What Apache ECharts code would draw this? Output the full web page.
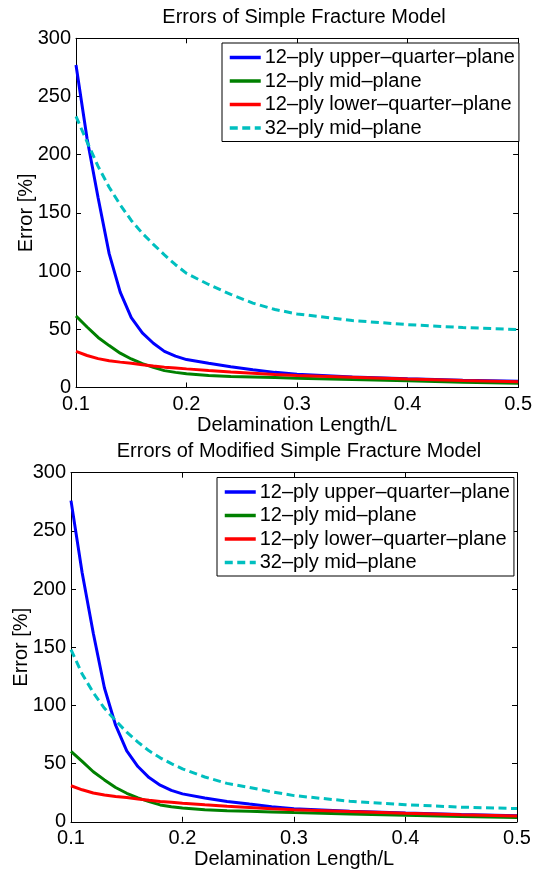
<!DOCTYPE html>
<html>
<head>
<meta charset="utf-8">
<script src="https://cdn.jsdelivr.net/npm/echarts@6/dist/echarts.min.js"></script>
<style>
  html, body { margin: 0; padding: 0; background: #fff; }
  #chart { width: 535px; height: 871px; }
</style>
</head>
<body>
<div id="chart"></div>
<script>
// delamination length / L
const xs = [0.10, 0.11, 0.12, 0.13, 0.14, 0.15, 0.16, 0.17, 0.18, 0.19, 0.20,
  0.22, 0.24, 0.26, 0.28, 0.30, 0.35, 0.40, 0.45, 0.50];

// top: simple fracture model
const upperTop = [277, 214, 163, 115, 82, 60, 47, 38, 31, 27, 24,
  20.8, 17.8, 15.3, 13, 11.3, 9, 7.5, 6.3, 5.3];
const midTop = [61.4, 52, 43, 36, 29.5, 24.5, 20.5, 17.3, 14.5, 13, 11.8,
  10.3, 9.5, 9, 8.5, 8, 6.8, 5.7, 4.6, 3.6];
const lowerTop = [31, 27.5, 24.8, 23, 21.8, 20.8, 19.6, 18.5, 17.5, 16.8, 16,
  14.6, 13.3, 12.3, 11.2, 10.3, 8.8, 7.4, 6.1, 5];
const mid32Top = [233, 211, 190, 172, 157, 143.5, 132.5, 123, 114, 105.5, 98,
  88.5, 80, 72.5, 67, 63.2, 57.5, 54, 51.5, 49.8];

// bottom: modified simple fracture model
const upperBot = [276, 214, 162, 115, 83, 61, 47.5, 38, 31.5, 27, 24,
  20.5, 17.5, 15.2, 13, 11.3, 9, 7.5, 6.3, 5.3];
const midBot = [60.5, 52, 43, 36, 29.5, 24.5, 20.5, 17.3, 14.5, 13, 11.8,
  10.3, 9.5, 9, 8.5, 8, 6.8, 5.7, 4.6, 3.6];
const lowerBot = [31, 27.5, 24.8, 23, 21.8, 20.8, 19.6, 18.5, 17.5, 16.8, 16,
  14.6, 13.3, 12.3, 11.2, 10.3, 8.8, 7.4, 6.1, 5];
const mid32Bot = [148, 127, 111, 97.5, 87, 77, 68.5, 61, 55, 50, 45.5,
  38.5, 33, 29.5, 25.8, 22.5, 17.7, 14.7, 12.6, 11.4];

const names = ["12–ply upper–quarter–plane", "12–ply mid–plane",
  "12–ply lower–quarter–plane", "32–ply mid–plane"];
const titles = ["Errors of Simple Fracture Model", "Errors of Modified Simple Fracture Model"];
const colors = ["#0000ff", "#008000", "#ff0000", "#00bfbf"];

const FONT = "Liberation Sans, Arial, Helvetica, sans-serif";

function pairs(ys) {
  return xs.map((x, i) => [x, ys[i]]);
}

function xAxisFor(grid, bottom) {
  return {
    type: "value",
    gridIndex: grid,
    position: bottom ? "bottom" : "top",
    min: 0.1,
    max: 0.5,
    interval: 0.1,
    name: bottom ? "Delamination Length/L" : "",
    nameLocation: "middle",
    nameGap: 28,
    nameMoveOverlap: false,
    nameTextStyle: { color: "#000", fontSize: 20, fontFamily: FONT },
    axisLine: { show: true, onZero: false, lineStyle: { color: "#000", width: 1 } },
    axisTick: { show: true, inside: true, length: 5, lineStyle: { color: "#000" } },
    axisLabel: {
      show: bottom,
      color: "#000",
      fontSize: 20,
      fontFamily: FONT,
      margin: 7,
      formatter: (v) => v.toFixed(1),
    },
    splitLine: { show: false },
  };
}

function yAxisFor(grid, left) {
  return {
    type: "value",
    gridIndex: grid,
    position: left ? "left" : "right",
    min: 0,
    max: 300,
    interval: 50,
    name: left ? "Error [%]" : "",
    nameLocation: "middle",
    nameGap: 40,
    nameMoveOverlap: false,
    nameRotate: 90,
    nameTextStyle: { color: "#000", fontSize: 20, fontFamily: FONT },
    axisLine: { show: true, onZero: false, lineStyle: { color: "#000", width: 1 } },
    axisTick: { show: true, inside: true, length: 5, lineStyle: { color: "#000" } },
    axisLabel: { show: left, color: "#000", fontSize: 20, fontFamily: FONT, margin: 5 },
    splitLine: { show: false },
  };
}

function seriesFor(grid, sets) {
  return sets.map((ys, i) => ({
    type: "line",
    name: names[i],
    xAxisIndex: grid * 2,
    yAxisIndex: grid * 2,
    data: pairs(ys),
    symbol: "none",
    smooth: false,
    lineStyle: {
      color: colors[i],
      width: 3,
      type: i === 3 ? [8, 4.5] : "solid",
    },
    itemStyle: { color: colors[i] },
  }));
}

function legendFor(left, top) {
  return {
    orient: "vertical",
    left: left,
    top: top,
    data: names,
    itemWidth: 31,
    itemHeight: 20,
    itemGap: 3.5,
    padding: [4.5, 4, 3.5, 6],
    backgroundColor: "#fff",
    borderColor: "#000",
    borderWidth: 1,
    borderRadius: 0,
    selectedMode: false,
    itemStyle: { opacity: 0, borderWidth: 0 },
    lineStyle: { width: 3.5 },
    textStyle: { color: "#000", fontSize: 20, fontFamily: FONT, padding: [0, 0, 0, -1] },
  };
}

const chart = echarts.init(document.getElementById("chart"), null, { renderer: "canvas" });

chart.setOption({
  backgroundColor: "#fff",
  animation: false,
  title: [
    {
      text: titles[0],
      left: 299,
      top: 2,
      textAlign: "center",
      textStyle: { color: "#000", fontSize: 20, fontWeight: "normal", fontFamily: FONT },
    },
    {
      text: titles[1],
      left: 294,
      top: 436,
      textAlign: "center",
      textStyle: { color: "#000", fontSize: 20, fontWeight: "normal", fontFamily: FONT },
    },
  ],
  legend: [legendFor(222, 43), legendFor(217, 477.5)],
  grid: [
    { left: 76, right: 13.4, top: 38.3, height: 349.2 },
    { left: 71, right: 18, top: 472.7, height: 349.1 },
  ],
  xAxis: [xAxisFor(0, true), xAxisFor(0, false), xAxisFor(1, true), xAxisFor(1, false)],
  yAxis: [yAxisFor(0, true), yAxisFor(0, false), yAxisFor(1, true), yAxisFor(1, false)],
  series: [
    ...seriesFor(0, [upperTop, midTop, lowerTop, mid32Top]),
    ...seriesFor(1, [upperBot, midBot, lowerBot, mid32Bot]),
  ],
});
</script>
</body>
</html>
